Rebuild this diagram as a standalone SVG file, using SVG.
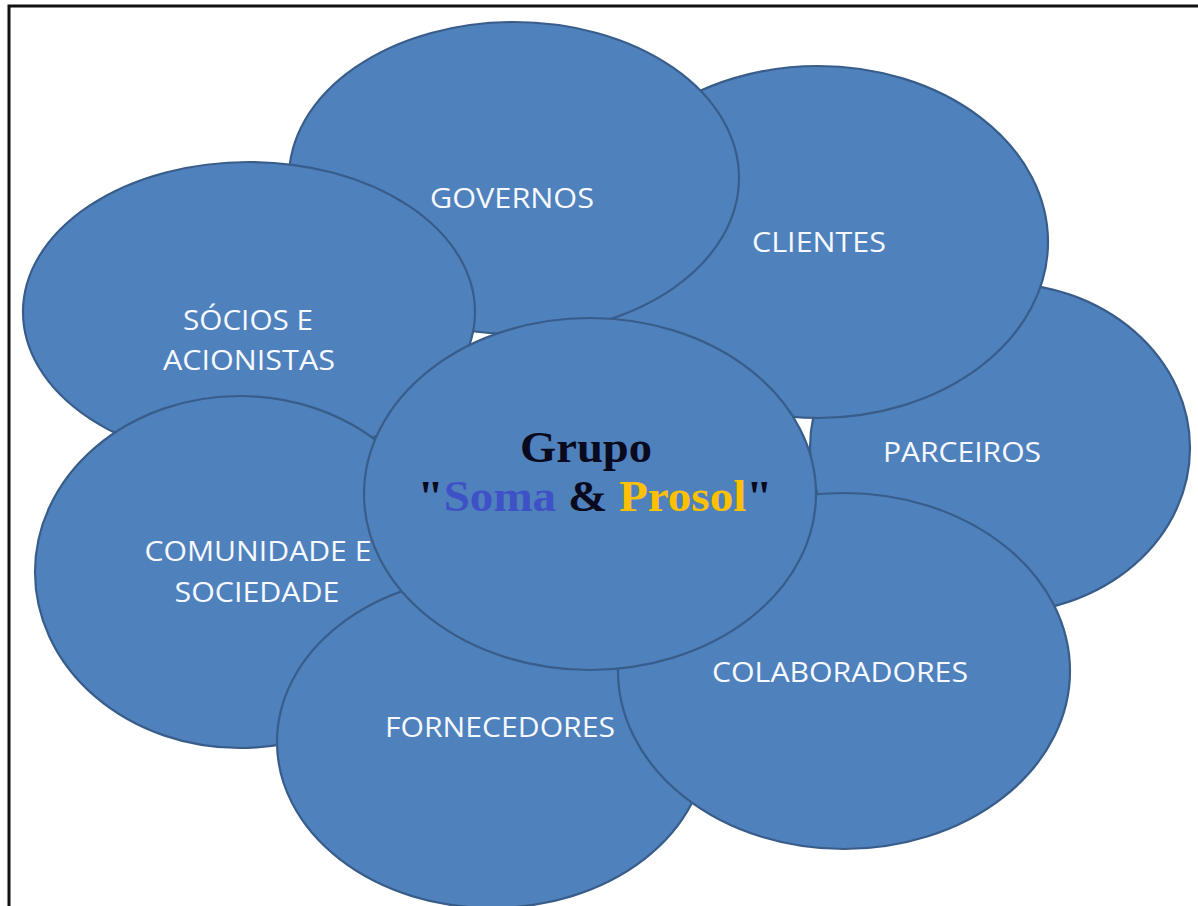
<svg xmlns="http://www.w3.org/2000/svg" width="1198" height="906" viewBox="0 0 1198 906">
<style>
.e{fill:#4f81bd;stroke:#385d8a;stroke-width:2.2}
.t{font-family:"Open Sans","Liberation Sans",sans-serif;font-size:27px;fill:#f6f9ff;text-anchor:middle}
.c{font-family:"Liberation Serif",serif;font-weight:bold;font-size:45px;text-anchor:middle;fill:#0a0a1e}
</style>
<rect width="1198" height="906" fill="#ffffff"/>
<path d="M9,906 V6 H1198" fill="none" stroke="#111" stroke-width="3"/>
<g id="parceiros"><ellipse class="e" cx="1000" cy="448" rx="190" ry="165"/><text class="t" x="962" y="462" textLength="158" lengthAdjust="spacingAndGlyphs">PARCEIROS</text></g>
<g id="clientes"><ellipse class="e" cx="818" cy="242" rx="230" ry="176"/><text class="t" x="819" y="252" textLength="134" lengthAdjust="spacingAndGlyphs">CLIENTES</text></g>
<g id="governos"><ellipse class="e" cx="514" cy="178" rx="225" ry="156"/><text class="t" x="512" y="208" textLength="164" lengthAdjust="spacingAndGlyphs">GOVERNOS</text></g>
<g id="socios"><ellipse class="e" cx="249" cy="312" rx="226" ry="150"/><text class="t" x="248" y="330" textLength="130" lengthAdjust="spacingAndGlyphs">SÓCIOS E</text><text class="t" x="249" y="370" textLength="172" lengthAdjust="spacingAndGlyphs">ACIONISTAS</text></g>
<g id="comunidade"><ellipse class="e" cx="240" cy="572" rx="205" ry="176"/><text class="t" x="258" y="561" textLength="227" lengthAdjust="spacingAndGlyphs">COMUNIDADE E</text><text class="t" x="257" y="602" textLength="165" lengthAdjust="spacingAndGlyphs">SOCIEDADE</text></g>
<g id="fornecedores"><ellipse class="e" cx="492" cy="742" rx="215" ry="166"/><text class="t" x="500" y="737" textLength="230" lengthAdjust="spacingAndGlyphs">FORNECEDORES</text></g>
<g id="colaboradores"><ellipse class="e" cx="844" cy="671" rx="226" ry="178"/><text class="t" x="840" y="682" textLength="256" lengthAdjust="spacingAndGlyphs">COLABORADORES</text></g>
<g id="centro"><ellipse class="e" cx="590" cy="494" rx="226" ry="176"/>
<text class="c" x="586" y="462" textLength="132" lengthAdjust="spacingAndGlyphs">Grupo</text>
<text class="c" x="595" y="511" textLength="355" lengthAdjust="spacingAndGlyphs">"<tspan fill="#3f51c6">Soma</tspan> &amp; <tspan fill="#ffc000">Prosol</tspan>"</text></g>
<g id="connectors"/>
</svg>
